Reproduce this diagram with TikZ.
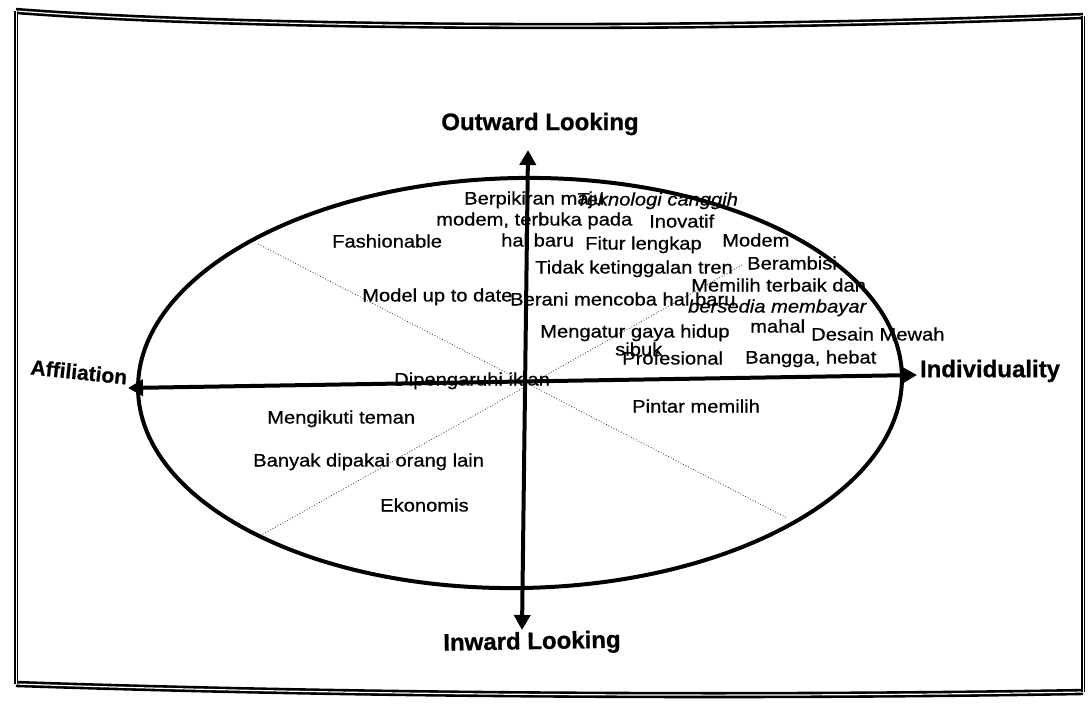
\documentclass[tikz,border=0pt]{standalone}
\usepackage{fontspec}
\usetikzlibrary{arrows.meta}
\newfontfamily\labfont[FakeStretch=1.12,FakeBold=0.6]{Liberation Sans}
\newfontfamily\titfont[FakeBold=0.8]{Liberation Sans}
\tikzset{
  lab/.style={font=\labfont\fontsize{18}{20}\selectfont, anchor=west, inner sep=0pt, text height=13pt, text depth=4pt},
  itlab/.style={lab, font=\labfont\itshape\fontsize{18}{20}\selectfont},
  tit/.style={font=\titfont\bfseries\fontsize{24}{26}\selectfont, inner sep=0pt},
  axis2/.style={line width=4pt, {Triangle[width=16pt,length=15pt]}-{Triangle[width=16pt,length=15pt]}},
  frameline/.style={line width=2.6pt, double=white, double distance=1.2pt},
  sideline/.style={line width=1.5pt, double=white, double distance=1pt},
  dotline/.style={line width=0.8pt, dotted, black!80}
}
\begin{document}
\begin{tikzpicture}[x=1pt,y=-1pt]
\fill[white] (0,0) rectangle (1089,706);
\useasboundingbox (0,0) rectangle (1089,706);
% frame
\coordinate (fTL) at (16,11);
\coordinate (fTR) at (1083,16);
\coordinate (fBR) at (1083,692);
\coordinate (fBL) at (16,684);
\draw[frameline] (fTL) .. controls (250,29) and (700,31) .. (fTR);
\draw[frameline] (fBL) .. controls (400,697) and (800,697) .. (fBR);
\draw[sideline] (fTL) -- (fBL);
\draw[sideline] (fTR) -- (fBR);
% dotted diagonals
\coordinate (d1a) at (258,244);
\coordinate (d1b) at (787,518);
\coordinate (d2a) at (258,537);
\coordinate (d2b) at (742,265);
\draw[dotline] (d1a) -- (d1b);
\draw[dotline] (d2a) -- (d2b);
% ellipse
\draw[line width=4pt, rotate around={1:(520,383)}] (520,383) ellipse [x radius=382, y radius=205];
% axes
\coordinate (axL) at (128,388);
\coordinate (axR) at (917,375);
\coordinate (axT) at (528,150);
\coordinate (axB) at (522,630);
\draw[axis2] (axL) -- (axR);
\draw[axis2] (axT) -- (axB);
% titles
\node[tit] (tOut) at (540,124) {Outward Looking};
\node[tit, rotate=1] (tIn) at (532,643) {Inward Looking};
\node[tit, font=\titfont\bfseries\fontsize{21}{23}\selectfont, rotate=-6] (tAff) at (79,372) {Affiliation};
\node[tit] (tInd) at (990,371) {Individuality};
% labels
\node[lab] (n1) at (464,200) {Berpikiran maju};
\node[itlab] (n2) at (576,201) {Teknologi canggih};
\node[lab] (n3) at (436,221) {modem, terbuka pada};
\node[lab] (n4) at (649,223) {Inovatif};
\node[lab] (n5) at (332,243) {Fashionable};
\node[lab] (n6) at (501,242) {hal baru};
\node[lab] (n7) at (585,245) {Fitur lengkap};
\node[lab] (n8) at (722,242) {Modem};
\node[lab] (n9) at (535,269) {Tidak ketinggalan tren};
\node[lab] (n10) at (747,265) {Berambisi};
\node[lab] (n11) at (691,287) {Memilih terbaik dan};
\node[lab] (n12) at (362,297) {Model up to date};
\node[lab] (n13) at (510,301) {Berani mencoba hal baru};
\node[itlab] (n14) at (688,308) {bersedia membayar};
\node[lab] (n15) at (540,333) {Mengatur gaya hidup};
\node[lab] (n16) at (750,328) {mahal};
\node[lab] (n17) at (811,336) {Desain Mewah};
\node[lab] (n18) at (615,351) {sibuk};
\node[lab] (n19) at (622,360) {Profesional};
\node[lab] (n20) at (745,359) {Bangga, hebat};
\node[lab] (n21) at (394,381) {Dipengaruhi iklan};
\node[lab] (n22) at (267,419) {Mengikuti teman};
\node[lab] (n23) at (632,408) {Pintar memilih};
\node[lab] (n24) at (253,462) {Banyak dipakai orang lain};
\node[lab] (n25) at (380,507) {Ekonomis};
\end{tikzpicture}
\end{document}
